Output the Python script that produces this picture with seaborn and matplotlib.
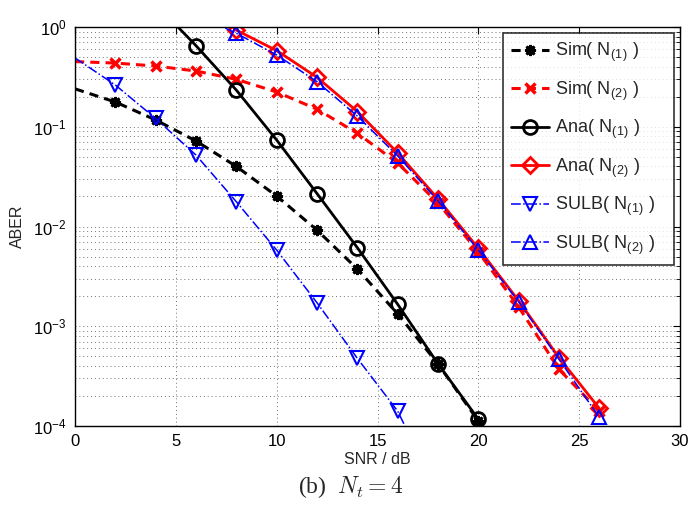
import matplotlib
matplotlib.use("Agg")
import matplotlib.pyplot as plt
import seaborn as sns
import numpy as np
import pandas as pd
from matplotlib.ticker import LogLocator, FixedLocator

# ---------------- data ----------------
sim1_snr = [0, 2, 4, 6, 8, 10, 12, 14, 16, 18, 20]
sim1_ber = [0.24, 0.177, 0.117, 0.072, 0.040, 0.0202, 0.0092, 0.00375, 0.00133, 0.00042, 0.000112]

sim2_snr = [0, 2, 4, 6, 8, 10, 12, 14, 16, 18, 20, 22, 24, 26]
sim2_ber = [0.45, 0.435, 0.406, 0.362, 0.299, 0.223, 0.15, 0.086, 0.0433, 0.0172, 0.00555, 0.00156, 0.00037, 0.000141]

ana1_snr = [4, 6, 8, 10, 12, 14, 16, 18, 20]
ana1_ber = [1.7, 0.65, 0.233, 0.0736, 0.0214, 0.00613, 0.00166, 0.00042, 0.000117]

ana2_snr = [6, 8, 10, 12, 14, 16, 18, 20, 22, 24, 26]
ana2_ber = [2.4, 0.93, 0.58, 0.313, 0.142, 0.0546, 0.0189, 0.00604, 0.0018, 0.000484, 0.00015]

sulb1_snr = [0, 2, 4, 6, 8, 10, 12, 14, 16, 18]
sulb1_ber = [0.49, 0.262, 0.121, 0.052, 0.0177, 0.0058, 0.00172, 0.000477, 0.000141, 0.000021]

sulb2_snr = [6, 8, 10, 12, 14, 16, 18, 20, 22, 24, 26]
sulb2_ber = [1.34, 0.865, 0.524, 0.283, 0.128, 0.051, 0.0181, 0.0058, 0.00176, 0.000466, 0.000122]

labels = ["Sim( N$_{\\mathdefault{(1)}}$ )", "Sim( N$_{\\mathdefault{(2)}}$ )",
          "Ana( N$_{\\mathdefault{(1)}}$ )", "Ana( N$_{\\mathdefault{(2)}}$ )",
          "SULB( N$_{\\mathdefault{(1)}}$ )", "SULB( N$_{\\mathdefault{(2)}}$ )"]
x_ticks = [0, 5, 10, 15, 20, 25, 30]

# ---------------- style ----------------
sns.set_style("white")
plt.rcParams["font.family"] = ["Liberation Sans", "DejaVu Sans"]
plt.rcParams["mathtext.fontset"] = "cm"
plt.rcParams["xtick.direction"] = "in"
plt.rcParams["ytick.direction"] = "in"

fig = plt.figure(figsize=(6.89, 5.11), dpi=100)
ax = fig.add_axes([75/689, 1-426/511, (680-75)/689, (426-27)/511])

series = [
    (sim1_snr, sim1_ber, dict(color="black", linestyle=(0, (3, 2)), linewidth=2.2,
                              marker=(8, 2, 0), markersize=8, mew=2.0, mec="black",
                              markevery=slice(1, None))),
    (sim2_snr, sim2_ber, dict(color="red", linestyle=(0, (3, 2)), linewidth=2.2,
                              marker="x", markersize=7, mew=2.5, mec="red",
                              markevery=slice(1, None))),
    (ana1_snr, ana1_ber, dict(color="black", linestyle="-", linewidth=2.0,
                              marker="o", markersize=10, mew=2.0, mec="black", mfc="none")),
    (ana2_snr, ana2_ber, dict(color="red", linestyle="-", linewidth=2.0,
                              marker="D", markersize=8, mew=2.0, mec="red", mfc="none")),
    (sulb1_snr, sulb1_ber, dict(color="blue", linestyle="-.", linewidth=1.1,
                                marker="v", markersize=10, mew=1.5, mec="blue", mfc="none",
                                markevery=slice(1, None))),
    (sulb2_snr, sulb2_ber, dict(color="blue", linestyle="-.", linewidth=1.1,
                                marker="^", markersize=10, mew=1.5, mec="blue", mfc="none")),
]

handles = []
for (xs, ys, kw), lab in zip(series, labels):
    df = pd.DataFrame({"snr": xs, "ber": ys})
    n_before = len(ax.lines)
    sns.lineplot(data=df, x="snr", y="ber", ax=ax, estimator=None, sort=False, **kw)
    handles.append(ax.lines[n_before])

ax.set_yscale("log")
ax.set_xlim(0, 30)
ax.set_ylim(1e-4, 1)
ax.xaxis.set_major_locator(FixedLocator(x_ticks))
ax.yaxis.set_major_locator(LogLocator(base=10, numticks=10))
ax.yaxis.set_minor_locator(LogLocator(base=10, subs=np.arange(2, 10), numticks=100))
ax.tick_params(which="both", top=True, right=True, labelsize=12, colors="black")
ax.tick_params(which="major", length=5, width=0.8, pad=6)
ax.tick_params(which="minor", length=3, width=0.6)
grid_kw = dict(linestyle=(0, (1, 3)), color="0.45", linewidth=0.7)
ax.grid(True, which="major", **grid_kw)
ax.grid(True, which="minor", axis="y", **grid_kw)
for s in ax.spines.values():
    s.set_color("black")
    s.set_linewidth(1.0)

ax.set_xlabel("SNR / dB", fontsize=11.5, labelpad=2)
ax.set_ylabel("ABER", fontsize=11.5, labelpad=6)

leg = ax.legend(handles, [l + "   " for l in labels], loc="upper right",
                bbox_to_anchor=(674/689, 1-33/511), bbox_transform=fig.transFigure,
                fontsize=13, frameon=True, fancybox=False, edgecolor="black",
                handlelength=2.1, handletextpad=0.3, labelspacing=0.84,
                borderpad=0.45, borderaxespad=0)
leg.get_frame().set_linewidth(1.2)

fig.text(0.509, 1-487/511, "(b)  $N_t = 4$", ha="center", va="center",
         fontsize=17, family=["Liberation Serif", "DejaVu Serif"])

fig.savefig("out.png", dpi=100)
